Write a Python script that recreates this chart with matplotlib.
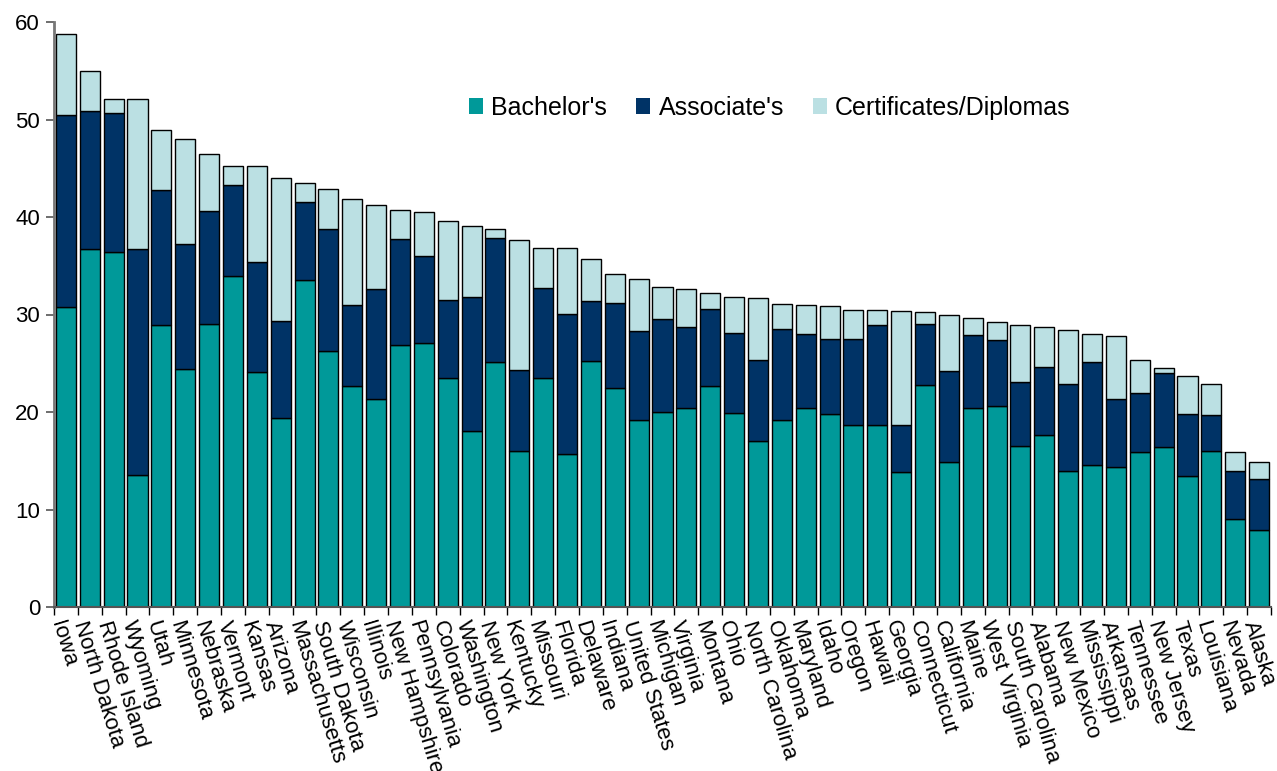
import matplotlib
matplotlib.use("Agg")
import matplotlib.pyplot as plt
import numpy as np
from matplotlib.patches import Patch

states = ["Iowa", "North Dakota", "Rhode Island", "Wyoming", "Utah", "Minnesota",
          "Nebraska", "Vermont", "Kansas", "Arizona", "Massachusetts", "South Dakota",
          "Wisconsin", "Illinois", "New Hampshire", "Pennsylvania", "Colorado",
          "Washington", "New York", "Kentucky", "Missouri", "Florida", "Delaware",
          "Indiana", "United States", "Michigan", "Virginia", "Montana", "Ohio",
          "North Carolina", "Oklahoma", "Maryland", "Idaho", "Oregon", "Hawaii",
          "Georgia", "Connecticut", "California", "Maine", "West Virginia",
          "South Carolina", "Alabama", "New Mexico", "Mississippi", "Arkansas",
          "Tennessee", "New Jersey", "Texas", "Louisiana", "Nevada", "Alaska"]

# cumulative levels
bachelor = [30.8, 36.7, 36.4, 13.5, 28.9, 24.4, 29.0, 33.9, 24.1, 19.4, 33.5, 26.3,
            22.7, 21.3, 26.9, 27.1, 23.5, 18.1, 25.1, 16.0, 23.5, 15.7, 25.2,
            22.5, 19.2, 20.0, 20.4, 22.7, 19.9, 17.0, 19.2, 20.4, 19.8, 18.7, 18.7,
            13.8, 22.8, 14.9, 20.4, 20.6, 16.5, 17.6, 13.9, 14.6, 14.4,
            15.9, 16.4, 13.4, 16.0, 9.0, 7.9]
bach_plus_assoc = [50.5, 50.9, 50.7, 36.7, 42.8, 37.2, 40.6, 43.3, 35.4, 29.3, 41.5, 38.8,
                   31.0, 32.6, 37.7, 36.0, 31.5, 31.8, 37.8, 24.3, 32.7, 30.1, 31.4,
                   31.2, 28.3, 29.5, 28.7, 30.6, 28.1, 25.3, 28.5, 28.0, 27.5, 27.5, 28.9,
                   18.7, 29.0, 24.2, 27.9, 27.4, 23.1, 24.6, 22.9, 25.1, 21.3,
                   21.9, 24.0, 19.8, 19.7, 14.0, 13.1]
total = [58.8, 55.0, 52.1, 52.1, 48.9, 48.0, 46.5, 45.2, 45.2, 44.0, 43.5, 42.9,
         41.8, 41.2, 40.7, 40.5, 39.6, 39.1, 38.8, 37.6, 36.8, 36.8, 35.7,
         34.2, 33.6, 32.8, 32.6, 32.2, 31.8, 31.7, 31.1, 31.0, 30.9, 30.5, 30.5,
         30.4, 30.3, 30.0, 29.6, 29.2, 28.9, 28.7, 28.4, 28.0, 27.8,
         25.3, 24.5, 23.7, 22.9, 15.9, 14.9]

bachelor = np.array(bachelor)
associate = np.array(bach_plus_assoc) - bachelor
certificates = np.array(total) - np.array(bach_plus_assoc)

series_names = ["Bachelor's", "Associate's", "Certificates/Diplomas"]
colors = ["#009999", "#003366", "#BBE0E3"]
yticks = [0, 10, 20, 30, 40, 50, 60]

plt.rcParams['font.family'] = ['Liberation Sans', 'DejaVu Sans']

W, H = 1277, 771
fig = plt.figure(figsize=(W / 100, H / 100), dpi=100)
ax = fig.add_axes([54 / W, 1 - 607 / H, (1271 - 54) / W, (607 - 22) / H])

x = np.arange(len(states))
bw = 0.84
ax.bar(x, bachelor, bw, color=colors[0], edgecolor="black", linewidth=1)
ax.bar(x, associate, bw, bottom=bachelor, color=colors[1], edgecolor="black", linewidth=1)
ax.bar(x, certificates, bw, bottom=bachelor + associate, color=colors[2],
       edgecolor="black", linewidth=1)

ax.set_xlim(-0.5, len(states) - 0.5)
ax.set_ylim(0, 60)
ax.set_yticks(yticks)
ax.set_yticklabels([str(v) for v in yticks], fontsize=16)

ax.set_xticks(x)
ax.set_xticklabels(states, rotation=-73, ha="left", va="top",
                   rotation_mode="anchor", fontsize=16)
ax.tick_params(axis="x", which="major", length=0, pad=8)
ax.set_xticks(np.arange(len(states) + 1) - 0.5, minor=True)
ax.tick_params(axis="x", which="minor", length=6, width=1, color="black", direction="out")
ax.tick_params(axis="y", length=6, width=1.2, color="#555555", direction="out", pad=4)

for s in ["top", "right"]:
    ax.spines[s].set_visible(False)
ax.spines["left"].set_color("#777777")
ax.spines["left"].set_linewidth(2)
ax.spines["bottom"].set_color("#555555")
ax.spines["bottom"].set_linewidth(1.5)

handles = [Patch(facecolor=c, edgecolor="none") for c in colors]
ax.legend(handles, series_names, loc="center left", bbox_to_anchor=(0.341, 0.853),
          ncol=3, frameon=False, fontsize=18, handlelength=0.57, handleheight=0.57,
          handletextpad=0.33, columnspacing=1.15, borderpad=0, borderaxespad=0)

fig.savefig("out.png", dpi=100)
